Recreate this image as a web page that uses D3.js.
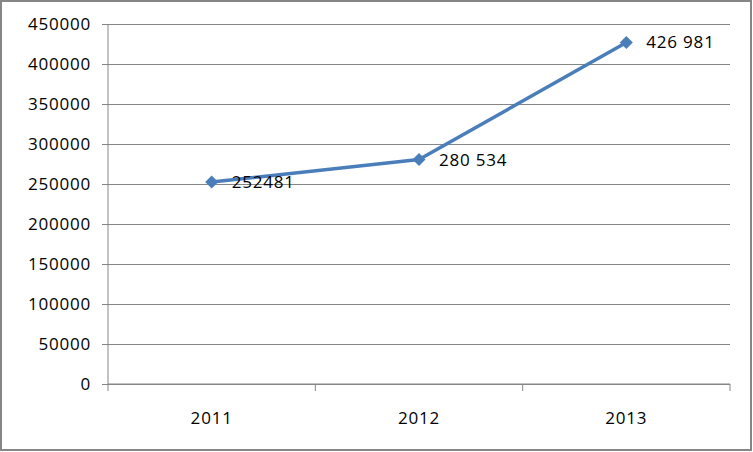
<!DOCTYPE html>
<html>
  <head>
    <meta charset="utf-8">
    <title>2011-2013</title>
    <script src="https://d3js.org/d3.v7.min.js"></script>
    <style>
      body { margin: 0; background: #fff; }
      svg text { font-family: "Open Sans", "Noto Sans", sans-serif; font-size: 17px; fill: #000; letter-spacing: 0.8px; }
    </style>
  </head>
  <body>
    <svg id="chart" width="753" height="452"></svg>
    <script>
      // data
      var years = ["2011", "2012", "2013"];
      var values = [252481, 280534, 426981];
      var valueLabels = ["252481", "280 534", "426 981"];
      var yTicks = [0, 50000, 100000, 150000, 200000, 250000, 300000, 350000, 400000, 450000];

      var svg = d3.select("#chart");
      var margin = { top: 24, right: 23, bottom: 68, left: 108 };
      var width = 753, height = 452;
      var grey = "#868686";

      // outer frame
      svg.append("rect")
        .attr("x", 1).attr("y", 1)
        .attr("width", width - 3).attr("height", height - 3)
        .attr("fill", "none")
        .attr("stroke", grey)
        .attr("stroke-width", 2);

      var x = d3.scaleBand()
        .domain(years)
        .range([margin.left, width - margin.right]);
      var y = d3.scaleLinear()
        .domain([0, 450000])
        .range([height - margin.bottom, margin.top]);

      // gridlines + y axis
      var yAxis = d3.axisLeft(y)
        .tickValues(yTicks)
        .tickFormat(d3.format("d"))
        .tickSize(-(width - margin.right - margin.left))
        .tickPadding(11);
      var yg = svg.append("g")
        .attr("transform", "translate(" + margin.left + ",0)")
        .call(yAxis);
      yg.select(".domain").remove();
      yg.selectAll(".tick line")
        .attr("x1", -6)
        .attr("stroke", grey);
      yg.selectAll(".tick text")
        .attr("font-family", null).attr("font-size", null)
        .attr("x", -17);
      yg.append("line")
        .attr("y1", y(0)).attr("y2", y(450000))
        .attr("stroke", grey);

      // x axis, ticks at band edges
      var xg = svg.append("g")
        .attr("transform", "translate(0," + y(0) + ")");
      xg.append("line")
        .attr("x1", margin.left).attr("x2", width - margin.right)
        .attr("stroke", grey);
      var edges = years.map(function(d) { return x(d); }).concat([x(years[years.length - 1]) + x.bandwidth()]);
      xg.selectAll(".edge")
          .data(edges)
        .enter().append("line")
          .attr("class", "edge")
          .attr("x1", function(d) { return d; }).attr("x2", function(d) { return d; })
          .attr("y1", 0).attr("y2", 7)
          .attr("stroke", grey);
      xg.selectAll(".xlabel")
          .data(years)
        .enter().append("text")
          .attr("class", "xlabel")
          .attr("x", function(d) { return x(d) + x.bandwidth() / 2; })
          .attr("y", 40)
          .attr("text-anchor", "middle")
          .text(function(d) { return d; });

      // series
      var pts = years.map(function(d, i) { return { year: d, value: values[i], label: valueLabels[i] }; });
      var cx = function(d) { return x(d.year) + x.bandwidth() / 2; };
      svg.append("path")
        .datum(pts)
        .attr("fill", "none")
        .attr("stroke", "#4a7ebb")
        .attr("stroke-width", 3.5)
        .attr("stroke-linejoin", "round")
        .attr("d", d3.line().x(cx).y(function(d) { return y(d.value); }));
      svg.selectAll(".marker")
          .data(pts)
        .enter().append("path")
          .attr("class", "marker")
          .attr("transform", function(d) { return "translate(" + cx(d) + "," + y(d.value) + ")"; })
          .attr("d", "M0,-6.5L6.5,0L0,6.5L-6.5,0Z")
          .attr("fill", "#4a7ebb");
      svg.selectAll(".vlabel")
          .data(pts)
        .enter().append("text")
          .attr("class", "vlabel")
          .attr("x", function(d) { return cx(d) + 20; })
          .attr("y", function(d) { return y(d.value) + 6; })
          .text(function(d) { return d.label; });
    </script>
  </body>
</html>
